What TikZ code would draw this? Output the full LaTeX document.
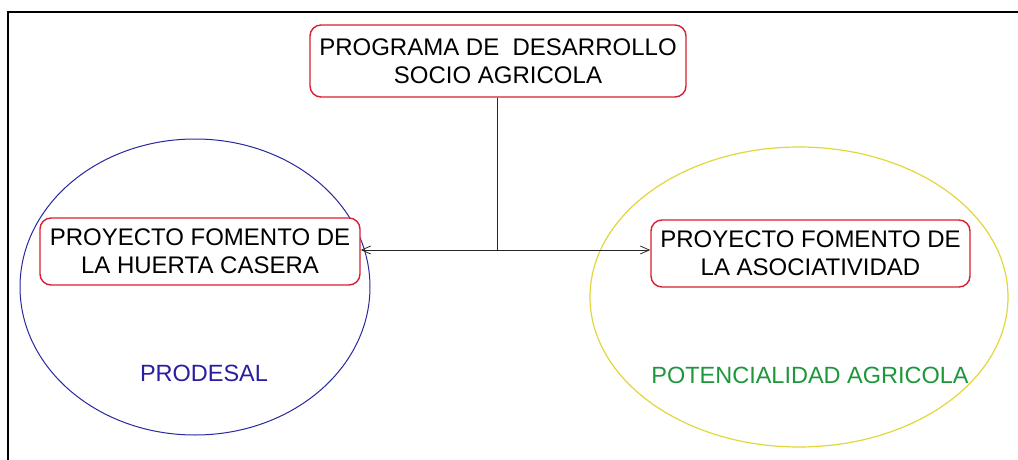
\documentclass[tikz,border=0pt]{standalone}
\usepackage{fontspec}
\setmainfont{Liberation Sans}
\usetikzlibrary{arrows.meta}
\definecolor{boxred}{RGB}{215,30,50}
\definecolor{ellblue}{RGB}{40,40,160}
\definecolor{ellyellow}{RGB}{225,215,60}
\definecolor{txtgreen}{RGB}{30,150,60}
\definecolor{txtblue}{RGB}{40,30,160}
\tikzset{
  redbox/.style={draw=boxred, line width=1.4pt, rounded corners=11pt, fill=white, inner sep=0pt, align=center, font=\fontsize{24}{28}\selectfont},
  conn/.style={line width=0.8pt, draw=black!85},
  tip/.style={-{Straight Barb[length=9pt,width=8pt,line width=0.8pt]}},
  lbl/.style={font=\fontsize{23.5}{28}\selectfont}
}
\begin{document}
\begin{tikzpicture}[x=1pt,y=-1pt]
\useasboundingbox (0,0) rectangle (1018,460);
% frame
\draw[line width=1.2pt] (8,470) -- (8,12) -- (1030,12);
% ellipses
\draw[ellblue, line width=1pt] (195,287) ellipse [x radius=175, y radius=148];
\draw[ellyellow, line width=1.2pt] (799,297) ellipse [x radius=209, y radius=150];
% boxes
\node[redbox, minimum width=376pt, minimum height=72pt] (top) at (498,61) {PROGRAMA DE~~DESARROLLO\\SOCIO AGRICOLA};
\node[redbox, minimum width=320pt, minimum height=67pt] (left) at (200,251.5) {PROYECTO FOMENTO DE\\LA HUERTA CASERA};
\node[redbox, minimum width=319pt, minimum height=67pt] (right) at (810.5,253.5) {PROYECTO FOMENTO DE\\LA ASOCIATIVIDAD};
% connectors
\coordinate (j) at (497,250);
\draw[conn] (top.south -| j) -- (j);
\draw[conn, tip] (j) -- (left.east |- j);
\draw[conn, tip] (j) -- (right.west |- j);
% labels
\node[lbl, text=txtblue] (prodesal) at (204,373) {PRODESAL};
\node[lbl, text=txtgreen] (poten) at (810,375) {POTENCIALIDAD AGRICOLA};
\end{tikzpicture}
\end{document}
